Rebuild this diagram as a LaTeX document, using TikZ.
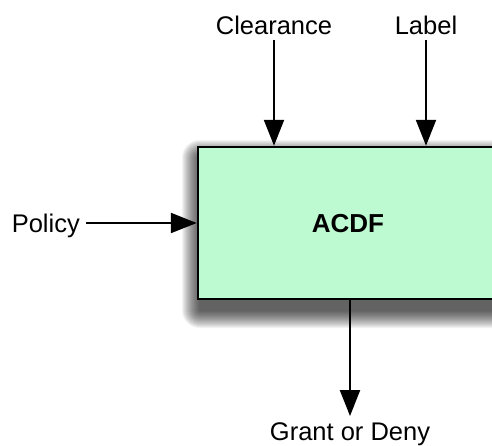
\documentclass[tikz,border=0pt]{standalone}
\usepackage{fontspec}
\setmainfont{Liberation Sans}
\usetikzlibrary{arrows.meta}
\definecolor{boxgreen}{RGB}{190,250,209}
\begin{document}
\begin{tikzpicture}[x=1pt,y=-1pt,
  lbl/.style={font=\fontsize{25.5}{30}\selectfont, inner sep=6pt, anchor=base},
  arr/.style={line width=2.3pt, -{Triangle[length=26pt,width=20pt]}},
  mainbox/.style={draw=black, line width=2.5pt, fill=boxgreen, minimum width=300pt, minimum height=152pt, inner sep=0pt}]
\useasboundingbox (0,0) rectangle (492,445);
\clip (0,0) rectangle (492,445);
% blurred drop shadow
\foreach \i in {1,...,18}{
  \fill[black, opacity=0.05, rounded corners=\i pt] (200-\i,158-\i) rectangle (498+\i,310+\i);
}
\node[mainbox] (box) at (348,223) {};
\node[font=\fontsize{26}{30}\selectfont\bfseries, anchor=base] (acdf) at (348,232) {ACDF};
\node[lbl] (clr) at (274,34) {Clearance};
\node[lbl] (lab) at (426,34) {Label};
\node[lbl, anchor=base east] (pol) at (86,232) {Policy};
\node[lbl] (grant) at (350,440) {Grant or Deny};
\draw[arr] (clr.south) -- (clr.south |- box.north);
\draw[arr] (lab.south) -- (lab.south |- box.north);
\draw[arr] (pol.east |- box.center) -- (box.west);
\draw[arr] (grant.north |- box.south) -- (grant.north);
\end{tikzpicture}
\end{document}
